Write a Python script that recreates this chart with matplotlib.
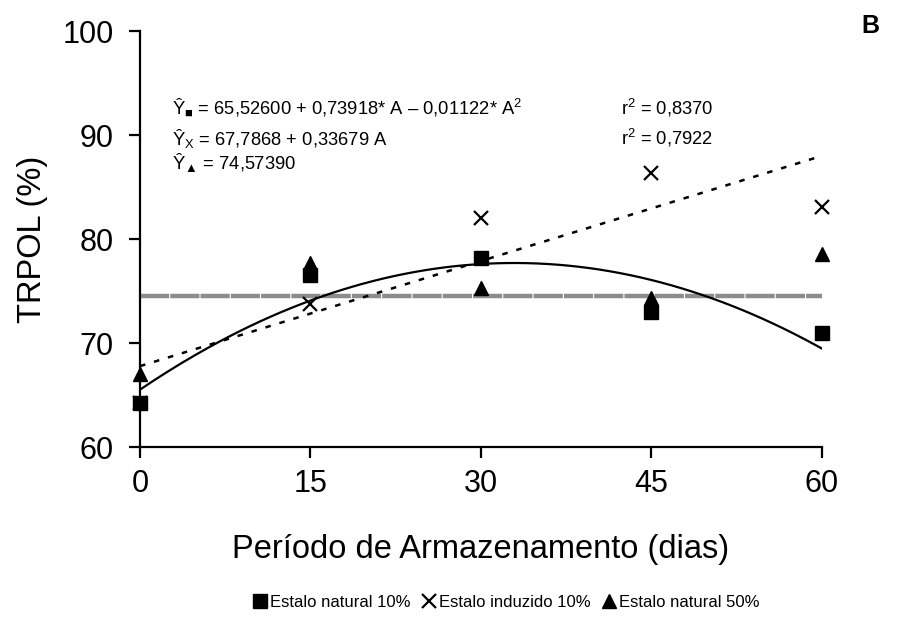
import numpy as np
import matplotlib
matplotlib.use("Agg")
import matplotlib.pyplot as plt
from matplotlib.lines import Line2D

plt.rcParams['font.family'] = ['Liberation Sans', 'DejaVu Sans']
plt.rcParams['mathtext.fontset'] = 'custom'
plt.rcParams['mathtext.rm'] = 'Liberation Sans'
plt.rcParams['mathtext.it'] = 'Liberation Sans:italic'
plt.rcParams['lines.scale_dashes'] = False

dias = [0, 15, 30, 45, 60]
natural10 = [64.2, 76.5, 78.2, 73.0, 71.0]
induzido10 = [64.2, 73.8, 82.0, 86.4, 83.1]
natural50 = [67.0, 77.7, 75.3, 74.3, 78.6]

quad_coef = [65.52600, 0.73918, -0.01122]
lin_coef = [67.7868, 0.33679]
mean50 = 74.57390

fig = plt.figure(figsize=(9.11, 6.28), dpi=100)
ax = fig.add_axes([0.1537, 0.288, 0.7483, 0.6626])

xx = np.linspace(0, 60, 200)
ax.plot(xx, quad_coef[0] + quad_coef[1]*xx + quad_coef[2]*xx**2, color='black', lw=1.6, zorder=2)
ax.plot(xx, lin_coef[0] + lin_coef[1]*xx, color='black', lw=1.8, ls=(0, (4, 6.5)), zorder=2)
ax.plot([0, 60], [mean50, mean50], color='#8c8c8c', lw=3.2, ls=(0, (21, 0.8)), zorder=1)

ax.plot(dias, induzido10, ls='none', marker='x', ms=10, mew=1.6, color='black', zorder=3, clip_on=False)
ax.plot(dias, natural50, ls='none', marker='^', ms=10, color='black', zorder=3, clip_on=False)
ax.plot(dias, natural10, ls='none', marker='s', ms=10.5, color='black', zorder=4, clip_on=False)

ax.set_xlim(0, 60)
ax.set_ylim(60, 100)
ax.set_xticks([0, 15, 30, 45, 60])
ax.set_yticks([60, 70, 80, 90, 100])
for s in ['top', 'right']:
    ax.spines[s].set_visible(False)
for s in ['left', 'bottom']:
    ax.spines[s].set_linewidth(1.6)
ax.tick_params(direction='out', length=8, width=1.6, labelsize=22)
ax.tick_params(axis='y', pad=11)
ax.tick_params(axis='x', pad=8)
ax.set_xlabel('Período de Armazenamento (dias)', fontsize=23.5, labelpad=25)
ax.set_ylabel('TRPOL (%)', fontsize=23.5, labelpad=10)

tfs = 13.2
ax.text(2.8, 92.6, 'Ŷ$_{■}$ = 65,52600 + 0,73918* A – 0,01122* A$^{2}$', fontsize=tfs, va='center')
ax.text(2.8, 89.7, 'Ŷ$_{\\mathrm{X}}$ = 67,7868 + 0,33679 A', fontsize=tfs, va='center')
ax.text(2.8, 87.4, 'Ŷ$_{▲}$ = 74,57390', fontsize=tfs, va='center')
ax.text(42.3, 92.6, 'r$^{2}$ = 0,8370', fontsize=tfs, va='center')
ax.text(42.3, 89.7, 'r$^{2}$ = 0,7922', fontsize=tfs, va='center')

fig.text(0.955, 0.958, 'B', fontsize=18, fontweight='bold', ha='center', va='center')

handles = [Line2D([], [], ls='none', marker='s', ms=10, color='black'),
           Line2D([], [], ls='none', marker='x', ms=10, mew=1.6, color='black'),
           Line2D([], [], ls='none', marker='^', ms=10, color='black')]
labels = ['Estalo natural 10%', 'Estalo induzido 10%', 'Estalo natural 50%']
fig.legend(handles, labels, loc='center', bbox_to_anchor=(0.556, 0.041), ncol=3,
           frameon=False, fontsize=12, handlelength=0.8, handletextpad=0.2,
           columnspacing=0.7)

fig.savefig('out.png', dpi=100)
